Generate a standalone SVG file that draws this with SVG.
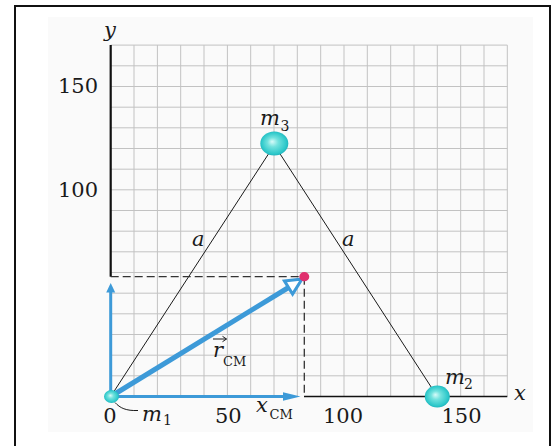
<svg xmlns="http://www.w3.org/2000/svg" width="557" height="446" viewBox="0 0 557 446">
  <defs>
    <radialGradient id="ball" cx="0.5" cy="0.5" r="0.55" fx="0.42" fy="0.42">
      <stop offset="0" stop-color="#d8fbf9"/>
      <stop offset="0.35" stop-color="#72e2de"/>
      <stop offset="0.8" stop-color="#2ec8ca"/>
      <stop offset="1" stop-color="#1aaab5"/>
    </radialGradient>
    <style>
      .grid{stroke:#c2c2c2;stroke-width:1;fill:none}
      .axis{stroke:#111;fill:none}
      .side{stroke:#1a1a1a;stroke-width:1;fill:none}
      .dash{stroke:#333;stroke-width:1.3;stroke-dasharray:8 4;fill:none}
      .blue{stroke:#3d9ad8;fill:none}
      .num{font-family:"DejaVu Serif","Liberation Serif",serif;font-size:21px;fill:#1a1a1a}
      .it{font-family:"DejaVu Serif","Liberation Serif",serif;font-style:italic;font-size:21px;fill:#1a1a1a}
      .sub{font-family:"DejaVu Serif","Liberation Serif",serif;font-size:14px;fill:#1a1a1a}
      .sc{font-family:"DejaVu Serif","Liberation Serif",serif;font-size:13px;fill:#1a1a1a}
      .ball{fill:url(#ball)}
    </style>
  </defs>

  <rect x="0" y="0" width="557" height="446" fill="#ffffff"/>
  <path d="M15,446 V6 H550 V446" fill="none" stroke="#111" stroke-width="2"/>
  <rect x="48" y="17" width="485" height="415" fill="#fafafa"/>

  <g id="grid" class="grid">
    <path d="M134,45.1V396.5M157.4,45.1V396.5M180.7,45.1V396.5M204,45.1V396.5M227.4,45.1V396.5M250.7,45.1V396.5M274,45.1V396.5M297.3,45.1V396.5M320.7,45.1V396.5M344,45.1V396.5M367.3,45.1V396.5M390.7,45.1V396.5M414,45.1V396.5M437.3,45.1V396.5M460.7,45.1V396.5M484,45.1V396.5M507.3,45.1V396.5"/>
    <path d="M110.7,375.8H507.3M110.7,355.2H507.3M110.7,334.5H507.3M110.7,313.8H507.3M110.7,293.2H507.3M110.7,272.5H507.3M110.7,251.8H507.3M110.7,231.2H507.3M110.7,210.5H507.3M110.7,189.8H507.3M110.7,169.2H507.3M110.7,148.5H507.3M110.7,127.8H507.3M110.7,107.2H507.3M110.7,86.5H507.3M110.7,65.8H507.3M110.7,45.1H507.3"/>
  </g>

  <g id="axes">
    <path class="axis" d="M110.7,45 V276.7" stroke-width="2.2"/>
    <path class="axis" d="M304,396.5 H507.3" stroke-width="1.5"/>
    <text class="it" x="104" y="37">y</text>
    <text class="it" x="514" y="400">x</text>
    <text class="num" x="98" y="93" text-anchor="end">150</text>
    <text class="num" x="98" y="197" text-anchor="end">100</text>
    <text class="num" x="110" y="423" text-anchor="middle">0</text>
    <text class="num" x="228.3" y="423" text-anchor="middle">50</text>
    <text class="num" x="343" y="423" text-anchor="middle">100</text>
    <text class="num" x="461.5" y="423" text-anchor="middle">150</text>
  </g>

  <g id="connectors">
    <path id="side-a-left" class="side" d="M110.7,396.5 L274.3,145"/>
    <path id="side-a-right" class="side" d="M274.3,145 L437.3,396.5"/>
    <path id="dash-h" class="dash" d="M110.7,276.7 H304.3"/>
    <path id="dash-v" class="dash" d="M304.3,276.7 V396.5"/>
    <g id="vec-y">
      <path class="blue" stroke-width="3" d="M110.7,396.5 V291"/>
      <polygon points="110.7,283 106.2,292.5 115.2,292.5" fill="#3d9ad8"/>
    </g>
    <g id="vec-x">
      <path class="blue" stroke-width="3" d="M110.7,396.5 H285"/>
      <polygon points="300.5,396.5 283,392.3 283,400.7" fill="#3d9ad8"/>
    </g>
    <g id="vec-r">
      <path class="blue" stroke-width="5" d="M110.7,396.5 L288.5,287.5"/>
      <polygon points="302,279 284.4,280.9 292.6,294.1" fill="#ffffff" stroke="#3d9ad8" stroke-width="3" stroke-linejoin="miter"/>
    </g>
    <path id="leader-m1" d="M115,402.5 C120,408 126,411 138,410.5" fill="none" stroke="#1a1a1a" stroke-width="1"/>
    <text class="it" x="192" y="246">a</text>
    <text class="it" x="342" y="246">a</text>
  </g>

  <g id="m1">
    <ellipse class="ball" cx="111.5" cy="396.5" rx="7.5" ry="6.5"/>
    <text class="it" x="142" y="421">m</text>
    <text class="sub" x="163" y="425">1</text>
  </g>
  <g id="m2">
    <ellipse class="ball" cx="437.3" cy="396.5" rx="12.5" ry="11"/>
    <text class="it" x="445" y="384">m</text>
    <text class="sub" x="464" y="389">2</text>
  </g>
  <g id="m3">
    <ellipse class="ball" cx="274.3" cy="143.5" rx="14" ry="12"/>
    <text class="it" x="260" y="125">m</text>
    <text class="sub" x="280.5" y="131">3</text>
  </g>
  <g id="cm">
    <ellipse cx="304.3" cy="276.7" rx="5" ry="4.6" fill="#e0306e"/>
  </g>

  <g id="label-rcm">
    <text class="it" x="213" y="356.5">r</text>
    <path d="M213,339 H226.5 M222.5,336.3 L226.5,339 L222.5,341.7" fill="none" stroke="#1a1a1a" stroke-width="1"/>
    <text class="sc" x="223" y="365.5">CM</text>
  </g>
  <g id="label-xcm">
    <text class="it" x="256" y="412">x</text>
    <text class="sc" x="269.5" y="419">CM</text>
  </g>
</svg>
